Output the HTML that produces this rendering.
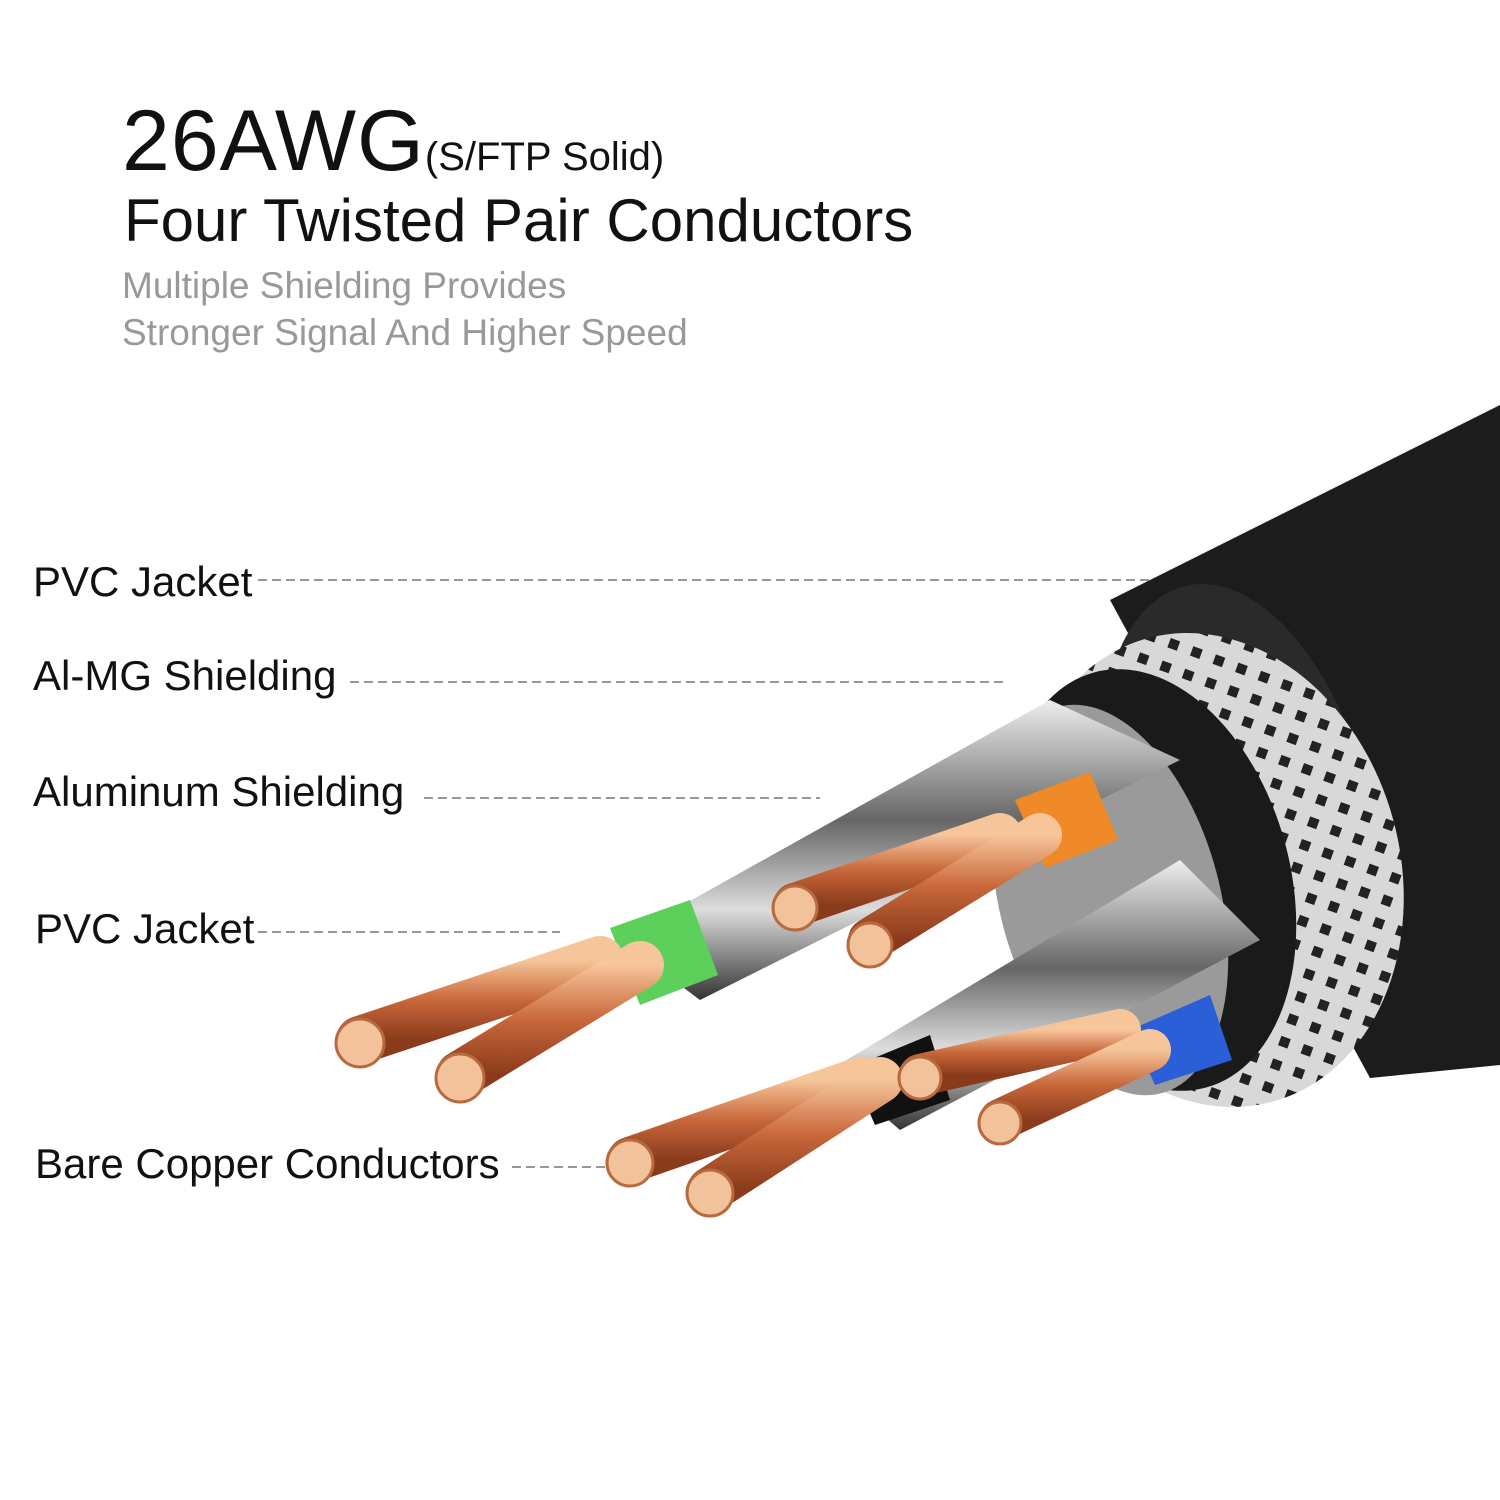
<!DOCTYPE html>
<html><head><meta charset="utf-8"><style>
html,body{margin:0;padding:0;background:#fff;}
body{width:1500px;height:1500px;position:relative;overflow:hidden;font-family:"Liberation Sans",sans-serif;}
.t{position:absolute;white-space:nowrap;color:#111;}
</style></head><body>
<div class="t" style="left:122px;top:92px;font-size:86px;letter-spacing:1px;">26AWG<span style="font-size:40px;letter-spacing:0">(S/FTP Solid)</span></div>
<div class="t" style="left:124px;top:186px;font-size:60px;">Four Twisted Pair Conductors</div>
<div class="t" style="left:122px;top:265px;font-size:37px;color:#999;">Multiple Shielding Provides</div>
<div class="t" style="left:122px;top:312px;font-size:37px;color:#999;">Stronger Signal And Higher Speed</div>
<div class="t" style="left:33px;top:558px;font-size:42px;">PVC Jacket</div>
<div class="t" style="left:33px;top:652px;font-size:42px;">Al-MG Shielding</div>
<div class="t" style="left:33px;top:768px;font-size:42px;">Aluminum Shielding</div>
<div class="t" style="left:35px;top:905px;font-size:42px;">PVC Jacket</div>
<div class="t" style="left:35px;top:1140px;font-size:42px;">Bare Copper Conductors</div>
<svg width="1500" height="1500" style="position:absolute;left:0;top:0">
<defs>
<linearGradient id="cu" x1="0" y1="0" x2="0" y2="1"><stop offset="0" stop-color="#f6c59a"/><stop offset=".5" stop-color="#c8673a"/><stop offset="1" stop-color="#8a3b1c"/></linearGradient>
<linearGradient id="sil" x1="0" y1="0" x2="0" y2="1"><stop offset="0" stop-color="#eee"/><stop offset=".4" stop-color="#666"/><stop offset=".7" stop-color="#ddd"/><stop offset="1" stop-color="#333"/></linearGradient>
<pattern id="br" width="24" height="24" patternUnits="userSpaceOnUse" patternTransform="rotate(35)"><rect width="24" height="24" fill="#d8d8d8"/><rect x="6" y="6" width="10" height="10" fill="#222"/></pattern>
</defs>
<g stroke="#777" stroke-width="1.5" stroke-dasharray="9 5" fill="none">
<line x1="258" y1="580" x2="1168" y2="580"/>
<line x1="350" y1="682" x2="1005" y2="682"/>
<line x1="424" y1="798" x2="820" y2="798"/>
<line x1="258" y1="932" x2="560" y2="932"/>
<line x1="512" y1="1167" x2="605" y2="1167"/>
</g>
<path d="M1110 600 L1500 405 L1500 1065 L1370 1078 Z" fill="#1c1c1c"/>
<ellipse cx="1240" cy="835" rx="135" ry="255" transform="rotate(-12 1240 835)" fill="#2a2a2a"/>
<ellipse cx="1210" cy="870" rx="190" ry="240" transform="rotate(-15 1210 870)" fill="url(#br)"/>
<ellipse cx="1150" cy="880" rx="140" ry="215" transform="rotate(-15 1150 880)" fill="#1a1a1a"/>
<ellipse cx="1110" cy="900" rx="110" ry="200" transform="rotate(-15 1110 900)" fill="#9a9a9a"/>
<path d="M620 940 L1050 700 L1180 760 L700 1000 Z" fill="url(#sil)"/>
<path d="M830 1070 L1180 860 L1260 940 L900 1130 Z" fill="url(#sil)"/>
<path d="M610 928 L690 900 L718 975 L640 1005 Z" fill="#5cd05a"/>
<path d="M1015 800 L1090 772 L1118 840 L1045 868 Z" fill="#f08a28"/>
<path d="M1130 1030 L1210 995 L1232 1060 L1155 1085 Z" fill="#2a5fd8"/>
<path d="M850 1068 L930 1035 L950 1100 L875 1125 Z" fill="#111"/>
<g stroke="url(#cu)" stroke-linecap="round">
<line x1="360" y1="1040" x2="600" y2="960" stroke-width="48"/>
<line x1="460" y1="1075" x2="640" y2="965" stroke-width="48"/>
<line x1="795" y1="905" x2="1000" y2="835" stroke-width="44"/>
<line x1="870" y1="940" x2="1040" y2="835" stroke-width="44"/>
<line x1="630" y1="1160" x2="860" y2="1080" stroke-width="46"/>
<line x1="710" y1="1190" x2="880" y2="1080" stroke-width="46"/>
<line x1="920" y1="1075" x2="1120" y2="1030" stroke-width="42"/>
<line x1="1000" y1="1120" x2="1150" y2="1050" stroke-width="42"/>
</g>
<g fill="#f2c29a" stroke="#b86a3e" stroke-width="3">
<circle cx="360" cy="1043" r="24"/><circle cx="460" cy="1078" r="24"/>
<circle cx="795" cy="908" r="22"/><circle cx="870" cy="945" r="22"/>
<circle cx="630" cy="1163" r="23"/><circle cx="710" cy="1193" r="23"/>
<circle cx="920" cy="1078" r="21"/><circle cx="1000" cy="1123" r="21"/>
</g>
</svg>
</body></html>
